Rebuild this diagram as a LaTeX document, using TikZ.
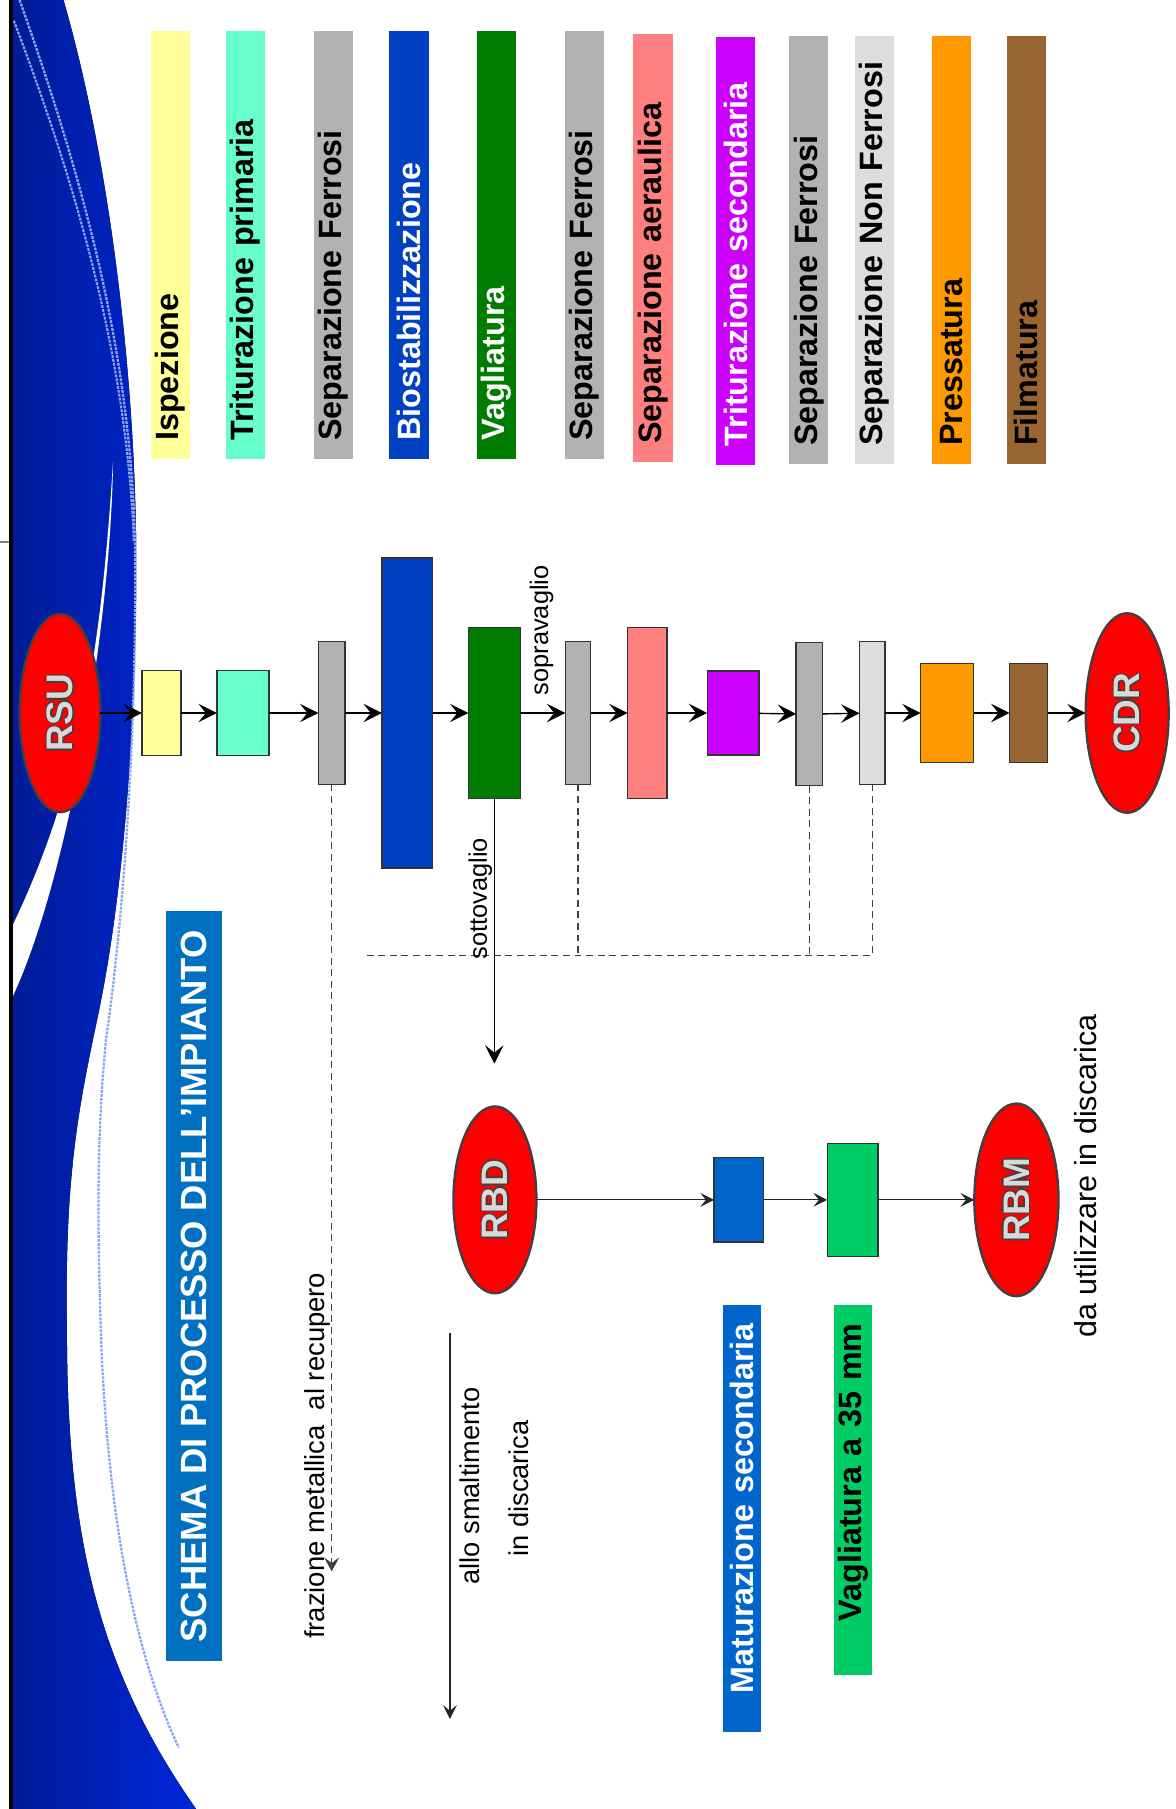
\documentclass[tikz,border=0pt]{standalone}
\usepackage{fontspec}
\setmainfont{Liberation Sans}
\usetikzlibrary{arrows.meta,positioning}
\usetikzlibrary{shapes.geometric}

\definecolor{c_ispez}{HTML}{FFFF99}
\definecolor{c_trit1}{HTML}{66FFCC}
\definecolor{c_sepf}{HTML}{B2B2B2}
\definecolor{c_bio}{HTML}{0041C4}
\definecolor{c_vagl}{HTML}{007C00}
\definecolor{c_sepa}{HTML}{FF7F7F}
\definecolor{c_trit2}{HTML}{CC00FF}
\definecolor{c_sepnf}{HTML}{DDDDDD}
\definecolor{c_press}{HTML}{FF9900}
\definecolor{c_film}{HTML}{996633}
\definecolor{c_matur}{HTML}{0066CC}
\definecolor{c_v35}{HTML}{00CC66}
\definecolor{c_title}{HTML}{0070C0}
\definecolor{c_navy}{HTML}{001C95}
\definecolor{c_royal}{HTML}{0026DA}
\definecolor{c_sheen}{HTML}{8FA6EE}

% letters with a dark rim, as in the red ellipses
\newcommand{\outlined}[1]{%
  \rlap{\color{black!75}\hspace{-0.7pt}#1}%
  \rlap{\color{black!75}\hspace{0.7pt}#1}%
  \rlap{\color{black!75}\raisebox{0.7pt}{#1}}%
  \rlap{\color{black!75}\raisebox{-0.7pt}{#1}}%
  {\color{white!85!black}#1}}

\tikzset{
        procnode/.style={inner sep=0pt, outer sep=0pt},
        % Process boxes
        node_box/.style={procnode, rectangle, draw=black!80, line width=0.6pt},
        % Materials in and out
        node_end/.style={procnode, ellipse, rotate=90, fill=red, draw=black!75, line width=1pt,
                         font=\fontsize{16}{16}\selectfont\bfseries},
        % Legend bars
        node_legend/.style={rotate=90, inner xsep=8pt, inner ysep=0pt, minimum height=17pt,
                            text width=169.5pt, align=left, font=\fontsize{14}{16}\selectfont\bfseries},
        % Bars under the second line
        node_tag/.style={rotate=90, inner xsep=8pt, inner ysep=0pt, minimum height=16.5pt,
                         align=right, font=\fontsize{14}{16}\selectfont\bfseries},
        % Free texts
        node_text/.style={rotate=90, inner sep=0pt, anchor=base west},
        flow/.style={-{Stealth[length=8pt,width=8pt,inset=3.2pt]}, line width=0.6pt},
        flow_thin/.style={-{Stealth[length=6pt,width=6pt,inset=2.4pt]}, line width=0.5pt, black!85},
        dash_line/.style={dash pattern=on 3pt off 2pt, line width=0.5pt, black!75}
}

\begin{document}
\begin{tikzpicture}[x=0.5pt, y=-0.5pt]
    \useasboundingbox (0,0) rectangle (1019,1568);

    % background swoosh
    \fill[left color=c_navy, right color=c_royal] (10,0) -- (55,0)
        .. controls (90,120) and (116,300) .. (118,470)
        .. controls (119,600) and (110,760) .. (85,880)
        .. controls (68,960) and (56,1020) .. (58,1150)
        .. controls (58,1320) and (80,1440) .. (170,1568) -- (10,1568) -- cycle;
    \fill[white] (98,400) .. controls (88,560) and (70,680) .. (10,804)
        -- (10,866) .. controls (60,760) and (96,540) .. (98,400);
    \draw[c_sheen, line width=1pt, dash pattern=on 1.2pt off 0.5pt] (17,0) .. controls (70,150) and (113,300) .. (117,470)
        .. controls (119,620) and (108,790) .. (92,900)
        .. controls (84,980) and (84,1060) .. (88,1170)
        .. controls (95,1330) and (120,1440) .. (155,1515);
    \draw[c_sheen, line width=0.9pt, dash pattern=on 1.2pt off 0.5pt] (12,18) .. controls (66,160) and (110,310) .. (116,470);
    \draw[line width=1.6pt] (9.5,0) -- (9.5,1568);
    \draw[gray, line width=0.8pt] (0,470) -- (8,470);

    % legend
    \node[node_legend, fill=c_ispez] (leg_ispez) at (147.5,212.5) {Ispezione};
    \node[node_legend, fill=c_trit1] (leg_trit1) at (212.5,212.5) {Triturazione primaria};
    \node[node_legend, fill=c_sepf] (leg_sepf1) at (289,212.5) {Separazione Ferrosi};
    \node[node_legend, fill=c_bio, text=white] (leg_bio) at (354.5,212.5) {Biostabilizzazione};
    \node[node_legend, fill=c_vagl, text=white] (leg_vagl) at (430.5,212.5) {Vagliatura};
    \node[node_legend, fill=c_sepf] (leg_sepf2) at (506.5,212.5) {Separazione Ferrosi};
    \node[node_legend, fill=c_sepa] (leg_sepa) at (566,215) {Separazione aeraulica};
    \node[node_legend, fill=c_trit2, text=white] (leg_trit2) at (637.5,217.5) {Triturazione secondaria};
    \node[node_legend, fill=c_sepf] (leg_sepf3) at (701,217) {Separazione Ferrosi};
    \node[node_legend, fill=c_sepnf] (leg_sepnf) at (758,217) {Separazione Non Ferrosi};
    \node[node_legend, fill=c_press] (leg_press) at (825,217) {Pressatura};
    \node[node_legend, fill=c_film] (leg_film) at (889.5,217) {Filmatura};

    % main line
    \node[node_end, minimum width=86pt, minimum height=35pt] (rsu) at (52,618) {\outlined{RSU}};
    \node[node_box, fill=c_ispez, minimum width=17pt, minimum height=37pt] (ispez) at (140,618) {};
    \node[node_box, fill=c_trit1, minimum width=22.5pt, minimum height=37pt] (trit1) at (210.5,618) {};
    \node[node_box, fill=c_sepf, minimum width=11.5pt, minimum height=62pt] (sepf1) at (287.5,618) {};
    \node[node_box, fill=c_bio, minimum width=22pt, minimum height=134.5pt] (bio) at (353,618) {};
    \node[node_box, fill=c_vagl, minimum width=22.5pt, minimum height=74pt] (vagl) at (428.5,618) {};
    \node[node_box, fill=c_sepf, minimum width=11pt, minimum height=62pt] (sepf2) at (501,618) {};
    \node[node_box, fill=c_sepa, minimum width=17pt, minimum height=74pt] (sepa) at (561,618) {};
    \node[node_box, fill=c_trit2, minimum width=22.5pt, minimum height=36.5pt] (trit2) at (635.5,618) {};
    \node[node_box, fill=c_sepf, minimum width=11.5pt, minimum height=62pt] (sepf3) at (701.5,619) {};
    \node[node_box, fill=c_sepnf, minimum width=11pt, minimum height=62pt] (sepnf) at (756,618) {};
    \node[node_box, fill=c_press, minimum width=23pt, minimum height=43pt] (press) at (821,618) {};
    \node[node_box, fill=c_film, minimum width=16.5pt, minimum height=43pt] (film) at (891.5,618) {};
    \node[node_end, minimum width=86.5pt, minimum height=36pt] (cdr) at (977,618) {\outlined{CDR}};

    \foreach \a/\b in {rsu/ispez, ispez/trit1, trit1/sepf1, sepf1/bio, bio/vagl, vagl/sepf2,
                       sepf2/sepa, sepa/trit2, trit2/sepf3, sepf3/sepnf, sepnf/press, press/film, film/cdr}
        \draw[flow] (\a) -- (\b);
    \node[node_text, font=\fontsize{11}{11}\selectfont] (lab_sopra) at (475,603) {sopravaglio};

    % metals
    \coordinate (metal_end) at (287.5,1362);
    \coordinate (dash_west) at (315,828);
    \draw[dash_line, -{Stealth[length=6pt,width=6.5pt,inset=2.4pt]}] (sepf1) -- (metal_end);
    \draw[dash_line] (sepnf.south) |- (dash_west);
    \draw[dash_line] (sepf2.south) -- (sepf2.south |- dash_west);
    \draw[dash_line] (sepf3.south) -- (sepf3.south |- dash_west);
    \node[node_text, font=\fontsize{11.9}{12}\selectfont] (lab_metal) at (281,1421) {frazione metallica\ \ al recupero};

    % undersize
    \coordinate (sotto_end) at (428.5,922);
    \draw[flow] (vagl) -- (sotto_end);
    \node[node_text, font=\fontsize{11}{11}\selectfont] (lab_sotto) at (422,832) {sottovaglio};

    % second line
    \node[node_end, minimum width=81pt, minimum height=36pt] (rbd) at (429,1040) {\outlined{RBD}};
    \node[node_box, fill=c_matur, minimum width=21.5pt, minimum height=36.5pt] (matur) at (640.5,1040) {};
    \node[node_box, fill=c_v35, minimum width=22pt, minimum height=49pt] (vagl35) at (739,1040) {};
    \node[node_end, minimum width=83.5pt, minimum height=36.5pt] (rbm) at (881,1040) {\outlined{RBM}};
    \draw[flow_thin] (rbd) -- (matur);
    \draw[flow_thin] (matur) -- (vagl35);
    \draw[flow_thin] (vagl35) -- (rbm);

    \node[node_tag, fill=c_matur, text=white, text width=169pt] (tag_matur) at (643.5,1316) {Maturazione secondaria};
    \node[node_tag, fill=c_v35, text width=144.5pt] (tag_v35) at (739.5,1291.5) {Vagliatura a 35 mm};
    \node[node_text, font=\fontsize{13.2}{14}\selectfont] (lab_rbm) at (950,1160) {da utilizzare in discarica};

    % landfill
    \coordinate (smalt_top) at (390,1155);
    \coordinate (smalt_end) at (390,1490);
    \draw[flow_thin] (smalt_top) -- (smalt_end);
    \node[node_text, anchor=base, font=\fontsize{11.8}{12}\selectfont] (lab_smalt) at (416,1288) {allo smaltimento};
    \node[node_text, anchor=base, font=\fontsize{11.8}{12}\selectfont] (lab_disc) at (458,1290) {in discarica};

    % title
    \node[rotate=90, fill=c_title, text=white, inner sep=0pt, minimum width=325pt, minimum height=24pt,
          font=\fontsize{15.8}{16}\selectfont\bfseries] (title) at (168,1115) {SCHEMA DI PROCESSO DELL’IMPIANTO};
\end{tikzpicture}
\end{document}
